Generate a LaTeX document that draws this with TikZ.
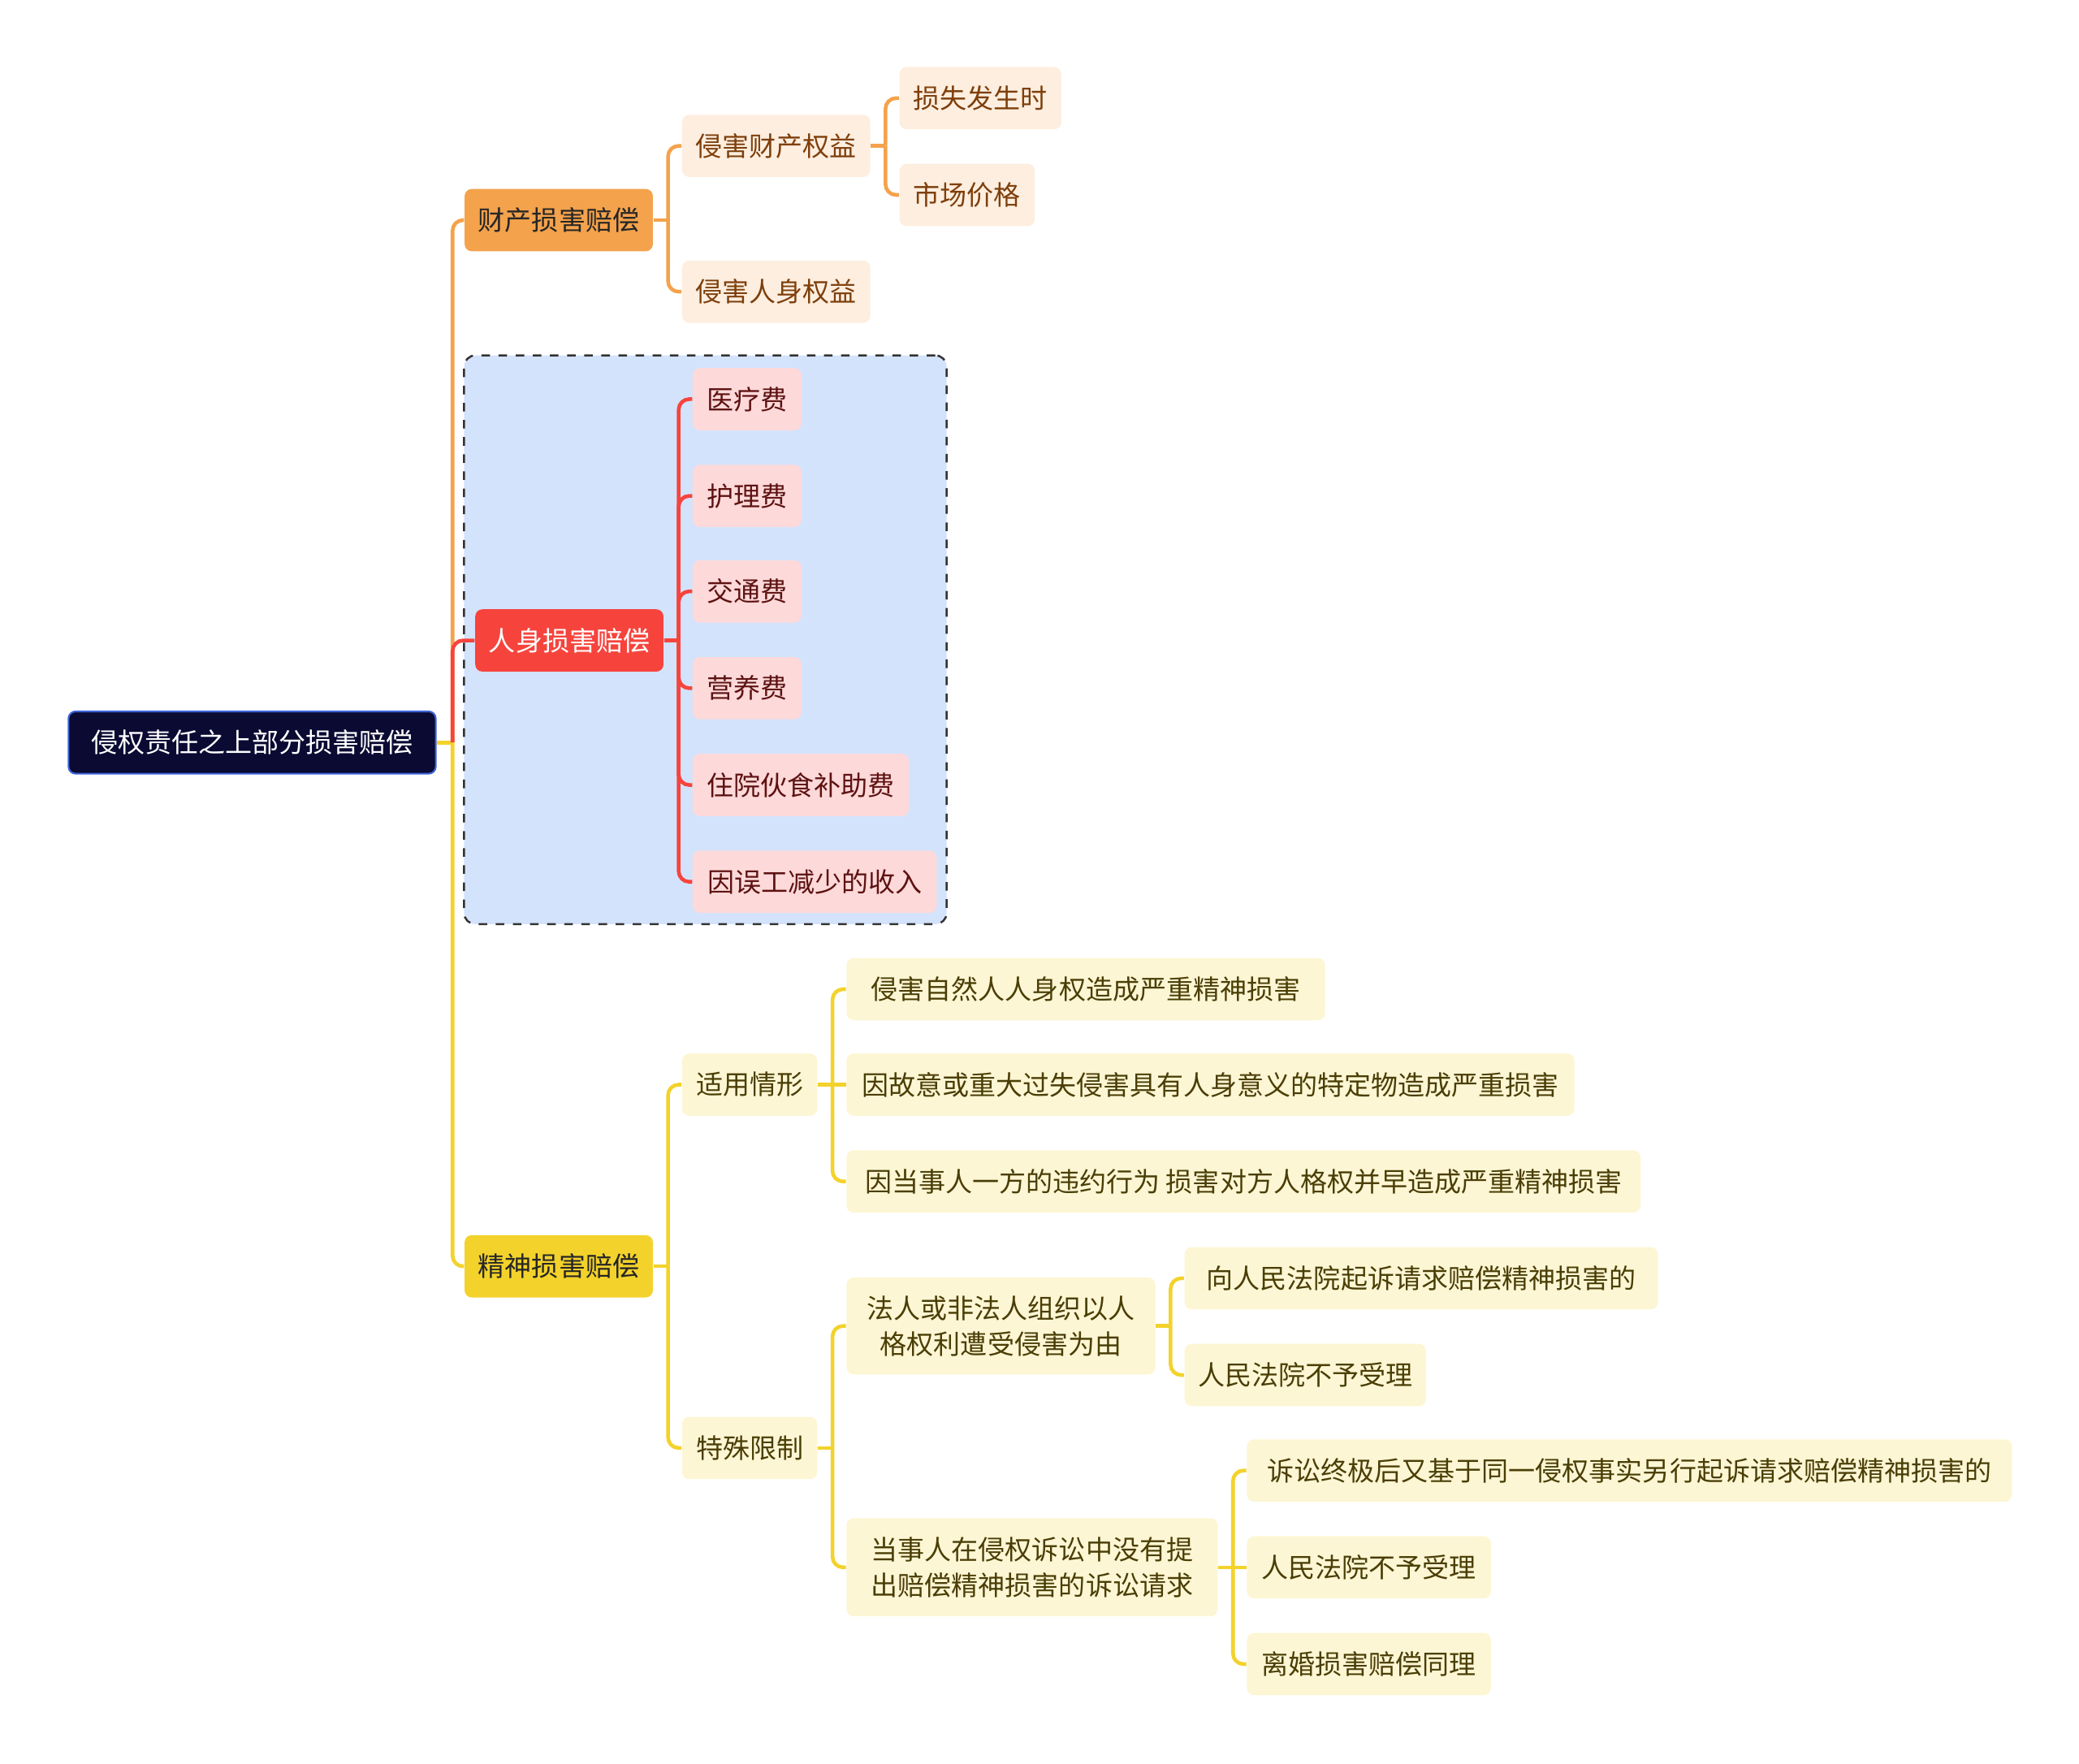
\documentclass[tikz,border=0pt]{standalone}
\usepackage{fontspec}
\newfontfamily\cjk{Noto Sans CJK SC}
\usepackage{tikz}
\usetikzlibrary{positioning, calc}
\definecolor{rootfill}{HTML}{0A0A33}
\definecolor{rootline}{HTML}{3F63D8}
\definecolor{orgmain}{HTML}{F4A24C}
\definecolor{orgleaf}{HTML}{FDEEDF}
\definecolor{orgtext}{HTML}{7E3F0C}
\definecolor{redmainc}{HTML}{F6443D}
\definecolor{redleafc}{HTML}{FDD9D9}
\definecolor{redtext}{HTML}{5E1212}
\definecolor{yelmain}{HTML}{F3D22B}
\definecolor{yelleaf}{HTML}{FDF6D4}
\definecolor{yeltext}{HTML}{4A3E06}
\definecolor{framefill}{HTML}{D4E3FC}
\tikzset{
  mmbox/.style={rectangle, rounded corners=2.5pt, anchor=west, minimum height=0.767cm, inner xsep=0.15cm, inner ysep=0pt, align=center, font=\cjk\fontsize{9.4}{12.6}\selectfont},
  rootnode/.style={mmbox, fill=rootfill, draw=rootline, line width=0.6pt, text=white},
  orgbranch/.style={mmbox, fill=orgmain, text=black!85},
  orgitem/.style={mmbox, fill=orgleaf, text=orgtext},
  redbranch/.style={mmbox, fill=redmainc, text=white},
  reditem/.style={mmbox, fill=redleafc, text=redtext},
  yelbranch/.style={mmbox, fill=yelmain, text=black!85},
  yelitem/.style={mmbox, fill=yelleaf, text=yeltext},
  dashframe/.style={rectangle, rounded corners=4pt, draw=black!80, dashed, line width=0.7pt, fill=framefill},
  orgline/.style={draw=orgmain, line width=1.3pt, rounded corners=0.13cm},
  redline/.style={draw=redmainc, line width=1.3pt, rounded corners=0.13cm},
  yelline/.style={draw=yelmain, line width=1.3pt, rounded corners=0.13cm}
}
\begin{document}
\begin{tikzpicture}[x=0.016327cm, y=-0.016327cm]
\useasboundingbox (0,0) rectangle (1568,1330);

% --- marco punteado ---
\node (frame) [dashframe, minimum width=5.943cm, minimum height=7.004cm] at (532,482.5) {};

\node (root) [rootnode, minimum width=4.523cm] at (51,560) {侵权责任之上部分损害赔偿};

% --- financiero ---
\node (caichan) [orgbranch, minimum width=2.318cm] at (350,166) {财产损害赔偿};
\node (qcq) [orgitem, minimum width=2.318cm] at (514,110) {侵害财产权益};
\node (ssfs) [orgitem, minimum width=1.992cm] at (678,74) {损失发生时};
\node (scjg) [orgitem, minimum width=1.665cm] at (678,147) {市场价格};
\node (qrs) [orgitem, minimum width=2.318cm] at (514,220) {侵害人身权益};

% --- personal ---
\node (renshen) [redbranch, minimum width=2.318cm] at (358,483) {人身损害赔偿};
\node (ylf) [reditem, minimum width=1.339cm] at (522,301) {医疗费};
\node (hlf) [reditem, minimum width=1.339cm] at (522,374) {护理费};
\node (jtf) [reditem, minimum width=1.339cm] at (522,446) {交通费};
\node (yyf) [reditem, minimum width=1.339cm] at (522,519) {营养费};
\node (zyf) [reditem, minimum width=2.661cm] at (522,592) {住院伙食补助费};
\node (wgsr) [reditem, minimum width=3.004cm] at (522,665) {因误工减少的收入};

% --- moral ---
\node (jingshen) [yelbranch, minimum width=2.318cm] at (350,955) {精神损害赔偿};
\node (syqx) [yelitem, minimum width=1.665cm] at (514,818) {适用情形};
\node (syone) [yelitem, minimum width=5.894cm] at (638,746) {侵害自然人人身权造成严重精神损害};
\node (sytwo) [yelitem, minimum width=8.964cm] at (638,818) {因故意或重大过失侵害具有人身意义的特定物造成严重损害};
\node (sythree) [yelitem, minimum width=9.780cm] at (638,891) {因当事人一方的违约行为 损害对方人格权并早造成严重精神损害};
\node (tsxz) [yelitem, minimum width=1.665cm] at (514,1092) {特殊限制};
\node (tsone) [yelitem, minimum width=3.804cm, minimum height=1.192cm] at (638,1000) {法人或非法人组织以人\\格权利遭受侵害为由};
\node (tsonea) [yelitem, minimum width=5.829cm] at (893,964) {向人民法院起诉请求赔偿精神损害的};
\node (tsoneb) [yelitem, minimum width=2.972cm] at (893,1037) {人民法院不予受理};
\node (tstwo) [yelitem, minimum width=4.572cm, minimum height=1.208cm] at (638,1182) {当事人在侵权诉讼中没有提\\出赔偿精神损害的诉讼请求};
\node (tstwoa) [yelitem, minimum width=9.421cm] at (940,1109) {诉讼终极后又基于同一侵权事实另行起诉请求赔偿精神损害的};
\node (tstwob) [yelitem, minimum width=3.004cm] at (940,1182) {人民法院不予受理};
\node (tstwoc) [yelitem, minimum width=3.004cm] at (940,1255) {离婚损害赔偿同理};

% --- conectores ---
\coordinate (rootbar) at ([xshift=0.196cm]root.east);
\draw [yelline] (root.east) -- (rootbar);
\draw [orgline] (rootbar) |- (caichan.west);
\draw [redline] (rootbar) |- (renshen.west);
\draw [yelline] (rootbar) |- (jingshen.west);

\coordinate (caibar) at ([xshift=0.18cm]caichan.east);
\draw [orgline] (caichan.east) -- (caibar);
\foreach \c in {qcq, qrs} \draw [orgline] (caibar) |- (\c.west);
\coordinate (qcqbar) at ([xshift=0.18cm]qcq.east);
\draw [orgline] (qcq.east) -- (qcqbar);
\foreach \c in {ssfs, scjg} \draw [orgline] (qcqbar) |- (\c.west);

\coordinate (renbar) at ([xshift=0.18cm]renshen.east);
\draw [redline] (renshen.east) -- (renbar);
\foreach \c in {ylf, hlf, jtf, yyf, zyf, wgsr} \draw [redline] (renbar) |- (\c.west);

\coordinate (jsbar) at ([xshift=0.18cm]jingshen.east);
\draw [yelline] (jingshen.east) -- (jsbar);
\foreach \c in {syqx, tsxz} \draw [yelline] (jsbar) |- (\c.west);
\coordinate (sybar) at ([xshift=0.18cm]syqx.east);
\draw [yelline] (syqx.east) -- (sytwo.west);
\foreach \c in {syone, sythree} \draw [yelline] (sybar) |- (\c.west);
\coordinate (tsbar) at ([xshift=0.18cm]tsxz.east);
\draw [yelline] (tsxz.east) -- (tsbar);
\foreach \c in {tsone, tstwo} \draw [yelline] (tsbar) |- (\c.west);
\coordinate (tsonebar) at ([xshift=0.18cm]tsone.east);
\draw [yelline] (tsone.east) -- (tsonebar);
\foreach \c in {tsonea, tsoneb} \draw [yelline] (tsonebar) |- (\c.west);
\coordinate (tstwobar) at ([xshift=0.18cm]tstwo.east);
\draw [yelline] (tstwo.east) -- (tstwob.west);
\foreach \c in {tstwoa, tstwoc} \draw [yelline] (tstwobar) |- (\c.west);
\end{tikzpicture}
\end{document}
